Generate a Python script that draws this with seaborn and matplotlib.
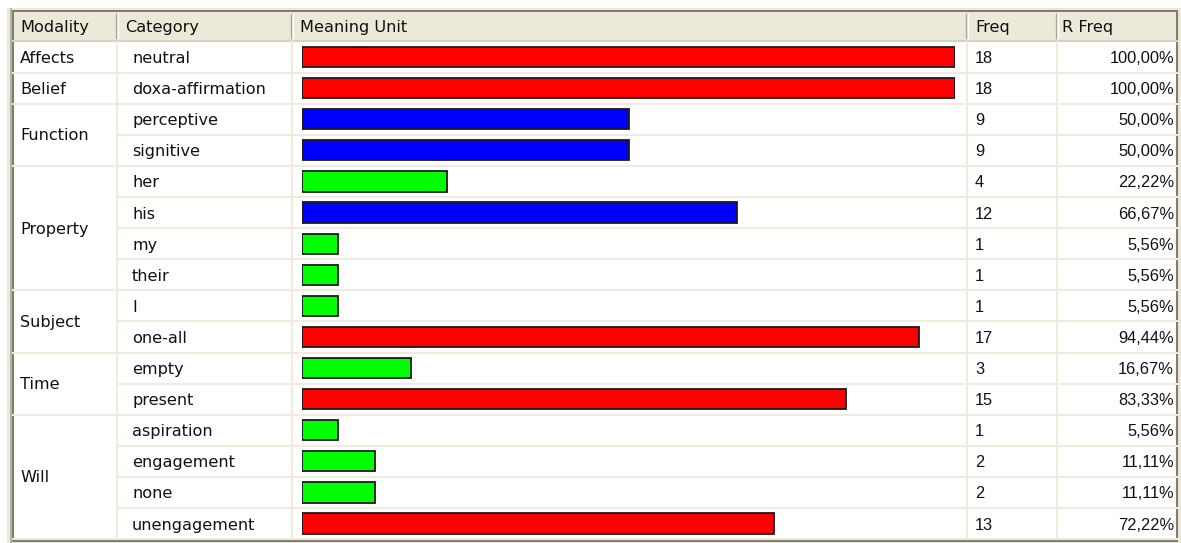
import pandas as pd
import matplotlib.pyplot as plt
import seaborn as sns
from matplotlib.patches import Rectangle

modality = ['Affects', 'Belief', 'Function', 'Property', 'Subject', 'Time', 'Will']
group_size = [1, 1, 2, 4, 2, 2, 4]
category = ['neutral', 'doxa-affirmation', 'perceptive', 'signitive', 'her', 'his',
            'my', 'their', 'I', 'one-all', 'empty', 'present', 'aspiration',
            'engagement', 'none', 'unengagement']
freq = [18, 18, 9, 9, 4, 12, 1, 1, 1, 17, 3, 15, 1, 2, 2, 13]
rel_freq = ['100,00%', '100,00%', '50,00%', '50,00%', '22,22%', '66,67%', '5,56%',
            '5,56%', '5,56%', '94,44%', '16,67%', '83,33%', '5,56%', '11,11%',
            '11,11%', '72,22%']
bar_colors = ['#ff0000', '#ff0000', '#0000ff', '#0000ff', '#00ff00', '#0000ff',
              '#00ff00', '#00ff00', '#00ff00', '#ff0000', '#00ff00', '#ff0000',
              '#00ff00', '#00ff00', '#00ff00', '#ff0000']
headers = ['Modality', 'Category', 'Meaning Unit', 'Freq', 'R Freq']

W, H = 1181, 543
fig = plt.figure(figsize=(W / 100, H / 100), dpi=100)
plt.rcParams['font.family'] = ['DejaVu Sans']
word_font = dict(fontsize=11.6, family='DejaVu Sans', color='#111111', va='center')
num_font = dict(fontsize=11.8, family='Liberation Sans', color='#111111', va='center')

# table layout in pixels
col_x = [13, 117, 292, 967, 1057, 1177]
head_top, head_bot = 11, 41.5
row_h = 31.1
n = len(category)
grid_c = '#efebde'

tab = fig.add_axes([0, 0, 1, 1])
tab.set_xlim(0, W)
tab.set_ylim(H, 0)
tab.axis('off')

# window frame
tab.add_patch(Rectangle((7, 8), W - 7, H - 8, facecolor='#ece9d8', edgecolor='none'))
tab.add_patch(Rectangle((col_x[0], head_top), col_x[-1] - col_x[0], H - 2 - head_top,
                        facecolor='white', edgecolor='#7f7d72', lw=1.5))
tab.plot([11, 11], [9, H - 1], color='#aca899', lw=1.2)

# header
tab.add_patch(Rectangle((col_x[0] + 1, head_top + 1), col_x[-1] - col_x[0] - 2,
                        head_bot - head_top - 1, facecolor='#ece9d8', edgecolor='none'))
tab.plot([col_x[0], col_x[-1]], [head_bot - 1, head_bot - 1], color='#d6d2c2', lw=1.5)
for x in col_x[1:-1]:
    tab.plot([x - 1, x - 1], [head_top + 3, head_bot - 4], color='#aca899', lw=1)
    tab.plot([x + 0.5, x + 0.5], [head_top + 3, head_bot - 4], color='white', lw=1)
head_x = [20, 125, 300, 975, 1062]
for x, h in zip(head_x, headers):
    tab.text(x, (head_top + head_bot) / 2 + 1, h, ha='left', **word_font)

# body grid
body_bot = head_bot + n * row_h
for x in col_x[1:-1]:
    tab.plot([x, x], [head_bot, body_bot], color=grid_c, lw=1.5)
starts = [sum(group_size[:i]) for i in range(len(group_size))]
for i in range(1, n + 1):
    y = head_bot + i * row_h
    x0 = col_x[0] if i in starts or i == n else col_x[1]
    tab.plot([x0, col_x[-1]], [y, y], color=grid_c, lw=1.5)

# text cells
for m, s, g in zip(modality, starts, group_size):
    yc = head_bot + (s + g / 2) * row_h + 1
    tab.text(20, yc, m, **word_font)
for i in range(n):
    yc = head_bot + (i + 0.5) * row_h + 1.5
    tab.text(132, yc, category[i], **word_font)
    tab.text(975, yc, str(freq[i]), **num_font)
    tab.text(1174, yc, rel_freq[i], ha='right', **num_font)

# bars in the Meaning Unit column
bx0, bx1 = 302, 955
ax = fig.add_axes([bx0 / W, 1 - body_bot / H, (bx1 - bx0) / W, n * row_h / H])
ax.patch.set_alpha(0)
df = pd.DataFrame({'category': category, 'freq': freq})
sns.barplot(data=df, x='freq', y='category', hue='category', palette=bar_colors,
            saturation=1, orient='h', width=0.65, edgecolor='#1a1a1a', linewidth=1.3,
            legend=False, ax=ax)
ax.set_xlim(0, 18)
ax.set_ylim(n - 0.5, -0.5)
ax.axis('off')

fig.savefig('out.png', dpi=100)
